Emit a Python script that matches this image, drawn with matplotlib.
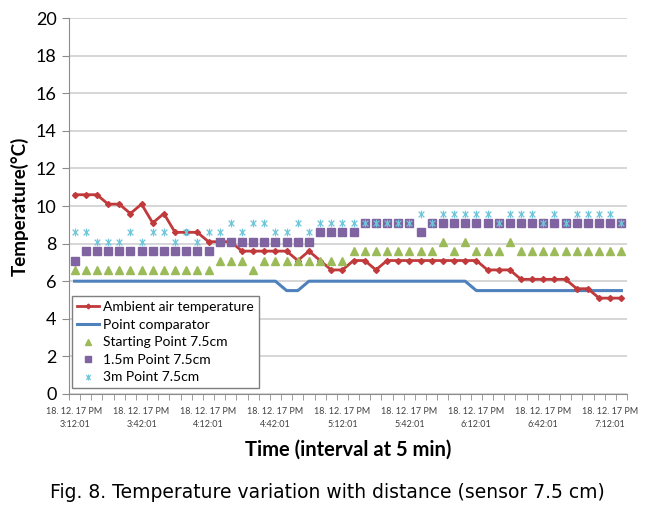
import matplotlib
matplotlib.use("Agg")
import matplotlib.pyplot as plt
import numpy as np
from matplotlib.path import Path

# readings every 5 min, 18.12.17 3:12:01 PM .. 7:17:01 PM
ambient = [10.6, 10.6, 10.6, 10.1, 10.1, 9.6, 10.1, 9.1, 9.6, 8.6,
           8.6, 8.6, 8.1, 8.1, 8.1, 7.6, 7.6, 7.6, 7.6, 7.6,
           7.1, 7.6, 7.1, 6.6, 6.6, 7.1, 7.1, 6.6, 7.1, 7.1,
           7.1, 7.1, 7.1, 7.1, 7.1, 7.1, 7.1, 6.6, 6.6, 6.6,
           6.1, 6.1, 6.1, 6.1, 6.1, 5.6, 5.6, 5.1, 5.1, 5.1]
comparator = [6.0, 6.0, 6.0, 6.0, 6.0, 6.0, 6.0, 6.0, 6.0, 6.0,
              6.0, 6.0, 6.0, 6.0, 6.0, 6.0, 6.0, 6.0, 6.0, 5.5,
              5.5, 6.0, 6.0, 6.0, 6.0, 6.0, 6.0, 6.0, 6.0, 6.0,
              6.0, 6.0, 6.0, 6.0, 6.0, 6.0, 5.5, 5.5, 5.5, 5.5,
              5.5, 5.5, 5.5, 5.5, 5.5, 5.5, 5.5, 5.5, 5.5, 5.5]
starting = [6.6, 6.6, 6.6, 6.6, 6.6, 6.6, 6.6, 6.6, 6.6, 6.6,
            6.6, 6.6, 6.6, 7.1, 7.1, 7.1, 6.6, 7.1, 7.1, 7.1,
            7.1, 7.1, 7.1, 7.1, 7.1, 7.6, 7.6, 7.6, 7.6, 7.6,
            7.6, 7.6, 7.6, 8.1, 7.6, 8.1, 7.6, 7.6, 7.6, 8.1,
            7.6, 7.6, 7.6, 7.6, 7.6, 7.6, 7.6, 7.6, 7.6, 7.6]
point_15m = [7.1, 7.6, 7.6, 7.6, 7.6, 7.6, 7.6, 7.6, 7.6, 7.6,
             7.6, 7.6, 7.6, 8.1, 8.1, 8.1, 8.1, 8.1, 8.1, 8.1,
             8.1, 8.1, 8.6, 8.6, 8.6, 8.6, 9.1, 9.1, 9.1, 9.1,
             9.1, 8.6, 9.1, 9.1, 9.1, 9.1, 9.1, 9.1, 9.1, 9.1,
             9.1, 9.1, 9.1, 9.1, 9.1, 9.1, 9.1, 9.1, 9.1, 9.1]
point_3m = [8.6, 8.6, 8.1, 8.1, 8.1, 8.6, 8.1, 8.6, 8.6, 8.1,
            8.6, 8.1, 8.6, 8.6, 9.1, 8.6, 9.1, 9.1, 8.6, 8.6,
            9.1, 8.6, 9.1, 9.1, 9.1, 9.1, 9.1, 9.1, 9.1, 9.1,
            9.1, 9.6, 9.1, 9.6, 9.6, 9.6, 9.6, 9.6, 9.1, 9.6,
            9.6, 9.6, 9.1, 9.6, 9.1, 9.6, 9.6, 9.6, 9.6, 9.1]
tick_labels = ["18. 12. 17 PM\n3:12:01", "18. 12. 17 PM\n3:42:01",
               "18. 12. 17 PM\n4:12:01", "18. 12. 17 PM\n4:42:01",
               "18. 12. 17 PM\n5:12:01", "18. 12. 17 PM\n5:42:01",
               "18. 12. 17 PM\n6:12:01", "18. 12. 17 PM\n6:42:01",
               "18. 12. 17 PM\n7:12:01"]

plt.rcParams['font.family'] = ['Lato', 'DejaVu Sans']

x = np.arange(len(ambient))

# excel style asterisk marker
star = Path([(0, -1), (0, 1), (-0.75, -0.75), (0.75, 0.75), (-0.75, 0.75), (0.75, -0.75)],
            [Path.MOVETO, Path.LINETO, Path.MOVETO, Path.LINETO, Path.MOVETO, Path.LINETO])

fig = plt.figure(figsize=(6.55, 5.11), dpi=100)
ax = fig.add_axes([69/655, 1-394/511, 558/655, 376/511])

ax.plot(x, ambient, color="#C0393B", linewidth=2, marker="D", markersize=3,
        label="Ambient air temperature", zorder=3)
ax.plot(x, comparator, color="#4F81BD", linewidth=2.2, label="Point comparator", zorder=2)
ax.plot(x, starting, linestyle="None", marker="^", markersize=6, color="#9BBB59",
        label="Starting Point 7.5cm", zorder=4)
ax.plot(x, point_15m, linestyle="None", marker="s", markersize=5.5, color="#8064A2",
        label="1.5m Point 7.5cm", zorder=5)
ax.plot(x, point_3m, linestyle="None", marker=star, markersize=5.5, markeredgewidth=0.9,
        color="#6FC6DA", markerfacecolor="none", label="3m Point 7.5cm", zorder=6)

ax.set_ylim(0, 20)
ax.set_yticks(np.arange(0, 21, 2))
ax.set_xlim(-0.5, len(ambient) - 0.5)
ax.set_xticks(x[::6])
ax.set_xticklabels(tick_labels, fontsize=6.5, linespacing=1.6)
ax.set_xticks(np.arange(-0.5, len(ambient), 1), minor=True)
ax.tick_params(axis="x", which="major", length=0, pad=9, colors="#404040")
ax.tick_params(axis="x", which="minor", length=4, color="#8C8C8C")
ax.tick_params(axis="y", length=5, color="#8C8C8C", labelsize=13, pad=4)
ax.grid(axis="y", color="#D0D0D0", linewidth=1.2)
ax.set_axisbelow(True)
for s in ["top", "right"]:
    ax.spines[s].set_visible(False)
ax.spines["left"].set_color("#8C8C8C")
ax.spines["bottom"].set_color("#8C8C8C")

ax.set_ylabel("Temperature(\u00b0C)", fontsize=13.5, fontweight="bold", labelpad=5)
ax.set_xlabel("Time (interval at 5 min)", fontsize=14.5, fontweight="bold", labelpad=8)

leg = ax.legend(loc="lower left", bbox_to_anchor=(0.005, 0.015), fontsize=10,
                fancybox=False, framealpha=1, edgecolor="#7F7F7F", borderpad=0.35,
                labelspacing=0.4, handlelength=1.6, handletextpad=0.3, borderaxespad=0,
                markerscale=0.8)
leg.get_frame().set_linewidth(1)

fig.text(0.5, 1-492/511, "Fig. 8. Temperature variation with distance (sensor 7.5 cm)",
         ha="center", va="center", fontsize=13.5, family="DejaVu Sans")

fig.savefig("out.png", dpi=100)
